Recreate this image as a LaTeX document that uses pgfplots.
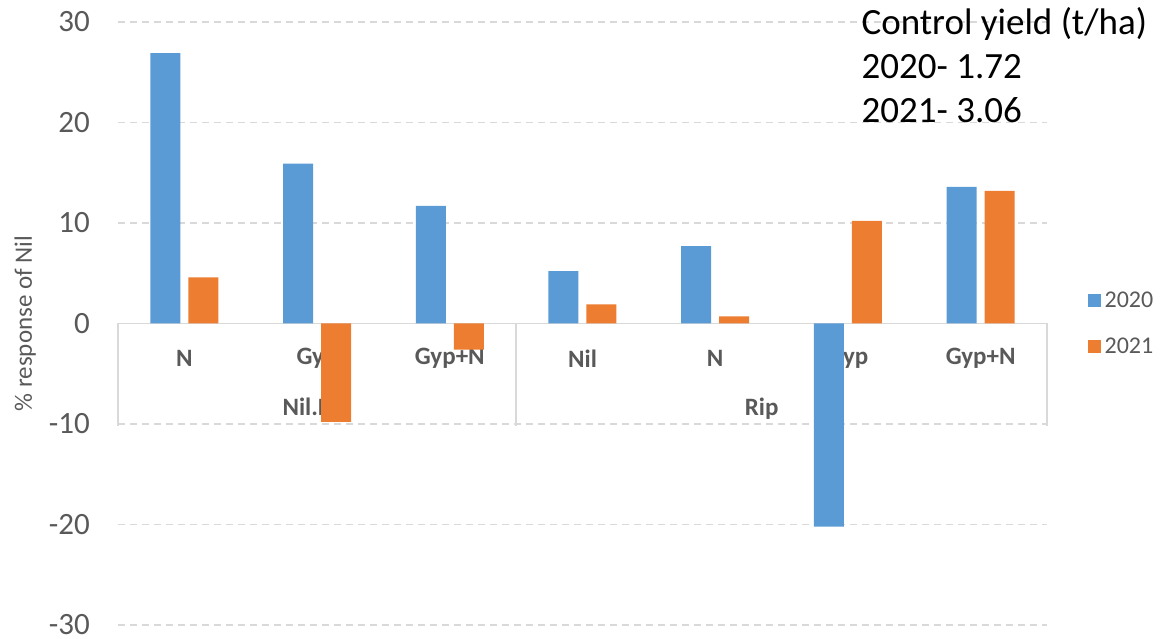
\documentclass[border=0pt]{standalone}
\usepackage{pgfplots}
\pgfplotsset{compat=1.18}
\usepackage{fontspec}
\setmainfont{Carlito}
\definecolor{cblue}{HTML}{5B9BD5}
\definecolor{corange}{HTML}{ED7D31}
\definecolor{lab}{HTML}{595959}
\definecolor{grd}{HTML}{D9D9D9}
\begin{document}
\begin{tikzpicture}
\path[use as bounding box] (-118pt,-14pt) rectangle (1042pt,625pt);
\begin{axis}[
  at={(0pt,0pt)}, anchor=south west,
  scale only axis, width=929pt, height=603pt,
  ybar=8pt, bar width=30pt,
  xmin=-0.5, xmax=6.5, ymin=-30, ymax=30,
  xtick=\empty,
  ytick={-30,-20,-10,0,10,20,30},
  yticklabels={-30,-20,-10,0,10,20,30},
  yticklabel style={font=\fontsize{31}{36}\selectfont, text=lab, anchor=east, inner sep=0pt, xshift=-28pt},
  major tick length=0pt,
  axis line style={draw=none},
  ymajorgrids,
  grid style={grd, line width=1.4pt, dash pattern=on 7pt off 5pt},
  ylabel={\% response of Nil},
  every axis y label/.style={at={(axis description cs:-0.1,0.5)}, rotate=90, anchor=center,
    font=\fontsize{25}{30}\selectfont, text=lab},
  clip=false,
  legend style={draw=none, fill=none, at={(axis description cs:1.044,0.5)}, anchor=west,
    inner xsep=0pt, inner ysep=0pt, row sep=24pt,
    font=\fontsize{24}{28}\selectfont, text=lab,
    nodes={inner xsep=3.5pt, inner ysep=2pt, anchor=west}},
  legend image code/.code={\fill[#1] (0pt,-6.5pt) rectangle (13pt,6.5pt);},
  legend cell align=left,
]
% category labels (drawn below bars)
\node[font=\bfseries\fontsize{25}{30}\selectfont, text=lab] at (axis cs:0,-3.5) {N};
\node[font=\bfseries\fontsize{25}{30}\selectfont, text=lab] at (axis cs:1,-3.5) {Gyp};
\node[font=\bfseries\fontsize{25}{30}\selectfont, text=lab] at (axis cs:2,-3.5) {Gyp+N};
\node[font=\bfseries\fontsize{25}{30}\selectfont, text=lab] at (axis cs:3,-3.5) {Nil};
\node[font=\bfseries\fontsize{25}{30}\selectfont, text=lab] at (axis cs:4,-3.5) {N};
\node[font=\bfseries\fontsize{25}{30}\selectfont, text=lab] at (axis cs:5,-3.5) {Gyp};
\node[font=\bfseries\fontsize{25}{30}\selectfont, text=lab] at (axis cs:6,-3.5) {Gyp+N};
\node[font=\bfseries\fontsize{25}{30}\selectfont, text=lab] at (axis cs:1,-8.45) {Nil.Rip};
\node[font=\bfseries\fontsize{25}{30}\selectfont, text=lab] at (axis cs:4.35,-8.45) {Rip};
\draw[grd, line width=1.4pt] (axis cs:-0.5,0) -- (axis cs:-0.5,-10.2);
\draw[grd, line width=1.4pt] (axis cs:2.5,0) -- (axis cs:2.5,-10.2);
\draw[grd, line width=1.4pt] (axis cs:6.5,0) -- (axis cs:6.5,-10.2);
\draw[grd, line width=1.4pt] (axis cs:-0.5,0) -- (axis cs:6.5,0);
\addplot[fill=cblue, draw=none] coordinates {(0,26.9) (1,15.9) (2,11.7) (3,5.2) (4,7.7) (5,-20.2) (6,13.6)};
\addplot[fill=corange, draw=none] coordinates {(0,4.6) (1,-9.8) (2,-2.6) (3,1.9) (4,0.7) (5,10.2) (6,13.2)};
\legend{2020,2021}
\end{axis}
\node[anchor=base west, font=\fontsize{37}{44}\selectfont] at (740pt,590pt) {Control yield (t/ha)};
\node[anchor=base west, font=\fontsize{37}{44}\selectfont] at (740pt,546pt) {2020- 1.72};
\node[anchor=base west, font=\fontsize{37}{44}\selectfont] at (740pt,502pt) {2021- 3.06};
\end{tikzpicture}
\end{document}
